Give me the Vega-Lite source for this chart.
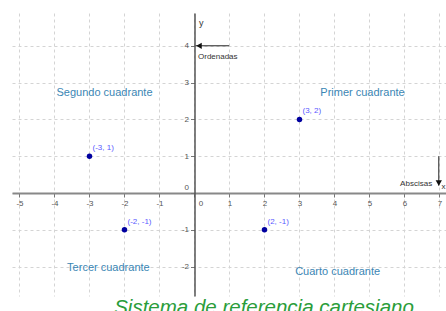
{
  "$schema": "https://vega.github.io/schema/vega-lite/v6.json",
  "width": 434,
  "height": 283,
  "autosize": "none",
  "padding": {"left": 12, "top": 13, "right": 0, "bottom": 15},
  "background": "white",
  "config": {"view": {"stroke": null}, "font": "Liberation Sans", "axis": {"labelOverlap": false, "labelSeparation": 0}},
  "title": {
    "text": "Sistema de referencia cartesiano",
    "orient": "bottom",
    "anchor": "middle",
    "dx": 35,
    "offset": 2,
    "color": "#2a9d3a",
    "fontSize": 20.5,
    "fontStyle": "italic",
    "fontWeight": "normal",
    "font": "Liberation Sans"
  },
  "datasets": {
    "points": [
      {"x": -3, "y": 1, "label": "(-3, 1)"},
      {"x": 3, "y": 2, "label": "(3, 2)"},
      {"x": -2, "y": -1, "label": "(-2, -1)"},
      {"x": 2, "y": -1, "label": "(2, -1)"}
    ],
    "quadrants": [
      {"x": -2.57, "y": 2.72, "label": "Segundo cuadrante"},
      {"x": 4.8, "y": 2.72, "label": "Primer cuadrante"},
      {"x": -2.46, "y": -2.04, "label": "Tercer cuadrante"},
      {"x": 4.09, "y": -2.15, "label": "Cuarto cuadrante"}
    ],
    "arrows": [
      {"x": 0.03, "y": 4, "x2": 0.99, "y2": 4},
      {"x": 6.98, "y": 1.0, "x2": 6.98, "y2": 0.2}
    ],
    "headLeft": [{"x": 0.13, "y": 4}],
    "headDown": [{"x": 6.98, "y": 0.27}],
    "notesLeft": [{"x": 0.1, "y": 3.7, "label": "Ordenadas"}],
    "notesRight": [{"x": 6.79, "y": 0.245, "label": "Abscisas"}]
  },
  "layer": [
    {
      "data": {"name": "points"},
      "mark": {"type": "point", "filled": true, "size": 30, "color": "#0000a0", "opacity": 1},
      "encoding": {
        "x": {
          "field": "x",
          "type": "quantitative",
          "scale": {"domain": [-5.214, 7.186], "nice": false, "zero": false},
          "axis": {
            "title": "x",
            "titleX": 429,
            "titleY": -7,
            "titleAlign": "left",
            "titleBaseline": "middle",
            "titleFontSize": 8,
            "titleFontWeight": "normal",
            "titleColor": "#333",
            "offset": -103,
            "values": [-5, -4, -3, -2, -1, 0, 1, 2, 3, 4, 5, 6, 7],
            "tickCount": 30,
            "labelExpr": "'' + datum.value",
            "labelFontSize": 8,
            "labelColor": "#555",
            "labelOffset": {"condition": {"test": "datum.value == 0", "value": 6}, "value": 0},
            "labelPadding": 2,
            "labelFlush": false,
            "labelOverlap": false,
            "labelSeparation": 0,
            "tickSize": 4,
            "tickColor": "#777",
            "domainColor": "#888",
            "domainWidth": 2,
            "grid": true,
            "gridColor": "#d4d4d4",
            "gridDash": [3, 3]
          }
        },
        "y": {
          "field": "y",
          "type": "quantitative",
          "scale": {"domain": [-2.799, 4.891], "nice": false, "zero": false},
          "axis": {
            "title": "y",
            "titleAngle": 0,
            "titleX": 4,
            "titleY": 9,
            "titleAlign": "left",
            "titleBaseline": "middle",
            "titleFontSize": 9,
            "titleFontWeight": "normal",
            "titleColor": "#333",
            "offset": -182.5,
            "values": [-2, -1, 0, 1, 2, 3, 4],
            "tickCount": 30,
            "labelExpr": "'' + datum.value",
            "labelFontSize": 8,
            "labelColor": "#555",
            "labelOffset": {"condition": {"test": "datum.value == 0", "value": -5}, "value": 0},
            "labelPadding": 2,
            "labelFlush": false,
            "labelOverlap": false,
            "tickSize": 4,
            "tickColor": "#777",
            "domainColor": "#555",
            "domainWidth": 1.5,
            "grid": true,
            "gridColor": "#d4d4d4",
            "gridDash": [3, 3]
          }
        }
      }
    },
    {
      "data": {"name": "points"},
      "mark": {"type": "text", "align": "left", "baseline": "middle", "dx": 3, "dy": -8, "fontSize": 8, "color": "#5a5aff"},
      "encoding": {
        "x": {"field": "x", "type": "quantitative"},
        "y": {"field": "y", "type": "quantitative"},
        "text": {"field": "label"}
      }
    },
    {
      "data": {"name": "quadrants"},
      "mark": {"type": "text", "align": "center", "baseline": "middle", "fontSize": 11, "color": "#3b86b4"},
      "encoding": {
        "x": {"field": "x", "type": "quantitative"},
        "y": {"field": "y", "type": "quantitative"},
        "text": {"field": "label"}
      }
    },
    {
      "data": {"name": "arrows"},
      "mark": {"type": "rule", "color": "#222", "strokeWidth": 1},
      "encoding": {
        "x": {"field": "x", "type": "quantitative"},
        "y": {"field": "y", "type": "quantitative"},
        "x2": {"field": "x2"},
        "y2": {"field": "y2"}
      }
    },
    {
      "data": {"name": "headLeft"},
      "mark": {"type": "point", "shape": "triangle-left", "filled": true, "size": 40, "color": "#111", "opacity": 1},
      "encoding": {
        "x": {"field": "x", "type": "quantitative"},
        "y": {"field": "y", "type": "quantitative"}
      }
    },
    {
      "data": {"name": "headDown"},
      "mark": {"type": "point", "shape": "triangle-down", "filled": true, "size": 40, "color": "#111", "opacity": 1},
      "encoding": {
        "x": {"field": "x", "type": "quantitative"},
        "y": {"field": "y", "type": "quantitative"}
      }
    },
    {
      "data": {"name": "notesLeft"},
      "mark": {"type": "text", "align": "left", "baseline": "middle", "fontSize": 8, "color": "#333"},
      "encoding": {
        "x": {"field": "x", "type": "quantitative"},
        "y": {"field": "y", "type": "quantitative"},
        "text": {"field": "label"}
      }
    },
    {
      "data": {"name": "notesRight"},
      "mark": {"type": "text", "align": "right", "baseline": "middle", "fontSize": 8, "color": "#333"},
      "encoding": {
        "x": {"field": "x", "type": "quantitative"},
        "y": {"field": "y", "type": "quantitative"},
        "text": {"field": "label"}
      }
    }
  ]
}
